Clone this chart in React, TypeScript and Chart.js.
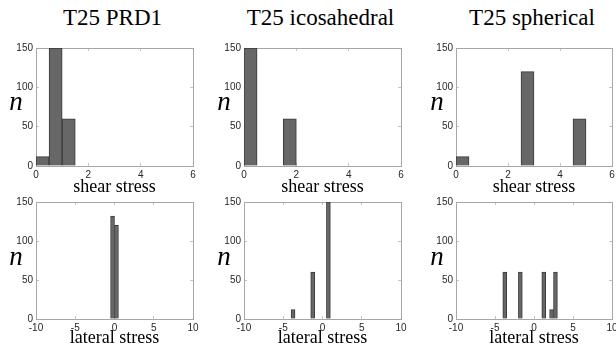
import React, { useEffect, useRef } from "react";
import { Chart, registerables } from "chart.js";

Chart.register(...registerables);

// ---------- data ----------
const BIN_WIDTH = 0.5;
const COUNT_MIN = 0;
const COUNT_MAX = 150;
const COUNT_STEP = 50;

const SHEAR_MIN = 0;
const SHEAR_MAX = 6;
const SHEAR_STEP = 2;
const LATERAL_MIN = -10;
const LATERAL_MAX = 10;
const LATERAL_STEP = 5;

const columnTitles = ["T25 PRD1", "T25 icosahedral", "T25 spherical"];
const shearLabel = "shear stress";
const lateralLabel = "lateral stress";
const countLabel = "n";

// bin start values and counts (bin width 0.5)
const prd1ShearStarts = [0, 0.5, 1.0];
const prd1ShearCounts = [12, 150, 60];
const icoShearStarts = [0, 1.5];
const icoShearCounts = [150, 60];
const sphShearStarts = [0, 2.5, 4.5];
const sphShearCounts = [12, 120, 60];

const prd1LateralStarts = [-0.5, 0];
const prd1LateralCounts = [132, 120];
const icoLateralStarts = [-4, -1.5, 0.5];
const icoLateralCounts = [12, 60, 150];
const sphLateralStarts = [-4, -2, 1, 2, 2.5];
const sphLateralCounts = [60, 60, 60, 12, 60];

// ---------- layout ----------
const COLS = [
  { left: 36, right: 193 },
  { left: 244, right: 401 },
  { left: 456, right: 612 },
];
const ROWS = [
  { top: 48, bottom: 166 },
  { top: 202, bottom: 319 },
];
const PAD_L = 34;
const PAD_T = 6;
const PAD_B = 18;

const TICK_FONT = { family: "'Liberation Sans', Arial, Helvetica, sans-serif", size: 10 };
const TICK_COLOR = "#262626";
const BOX_COLOR = "#a6a6a6";
const TICK_MARK_COLOR = "#c4c4c4";
const BAR_FILL = "#676767";
const BAR_EDGE = "#3a3a3a";

function buildHistogram(min: number, max: number, starts: number[], counts: number[]) {
  const n = Math.round((max - min) / BIN_WIDTH);
  const labels: string[] = [];
  const data: (number | null)[] = [];
  for (let i = 0; i < n; i++) {
    labels.push((min + i * BIN_WIDTH).toFixed(1));
    data.push(null);
  }
  starts.forEach((s, k) => {
    data[Math.round((s - min) / BIN_WIDTH)] = counts[k];
  });
  return { labels, data };
}

const fixSize = (size: number, horizontal: boolean) => (scale: any) => {
  if (horizontal) scale.height = size;
  else scale.width = size;
  scale.paddingLeft = 0;
  scale.paddingRight = 0;
  scale.paddingTop = 0;
  scale.paddingBottom = 0;
};

type PanelProps = {
  col: number;
  row: number;
  min: number;
  max: number;
  step: number;
  starts: number[];
  counts: number[];
};

function Panel({ col, row, min, max, step, starts, counts }: PanelProps) {
  const ref = useRef<HTMLCanvasElement | null>(null);
  const c = COLS[col];
  const r = ROWS[row];
  const padR = col === 2 ? 616 - c.right : 8;
  const width = c.right - c.left + PAD_L + padR;
  const height = r.bottom - r.top + PAD_T + PAD_B;

  useEffect(() => {
    if (!ref.current) return;
    const { labels, data } = buildHistogram(min, max, starts, counts);
    const grid = {
      offset: false,
      drawOnChartArea: false,
      drawTicks: true,
      tickLength: -3,
      tickColor: TICK_MARK_COLOR,
      color: TICK_MARK_COLOR,
    };
    const border = { display: true, color: BOX_COLOR, width: 1 };
    const chart = new Chart(ref.current, {
      type: "bar",
      data: {
        labels,
        datasets: [
          {
            data,
            backgroundColor: BAR_FILL,
            borderColor: BAR_EDGE,
            borderWidth: 1,
            barPercentage: 1,
            categoryPercentage: 1,
            xAxisID: "x",
            yAxisID: "y",
          },
        ],
      },
      options: {
        animation: false,
        responsive: false,
        devicePixelRatio: 1,
        layout: { padding: 0 },
        plugins: { legend: { display: false }, tooltip: { enabled: false }, title: { display: false } },
        scales: {
          x: { type: "category", display: false, offset: true },
          xb: {
            type: "linear",
            position: "bottom",
            offset: false,
            min,
            max,
            ticks: { stepSize: step, font: TICK_FONT, color: TICK_COLOR, padding: 6, maxRotation: 0, autoSkip: false },
            grid,
            border,
            afterFit: fixSize(PAD_B, true),
          },
          xt: {
            type: "linear",
            position: "top",
            offset: false,
            min,
            max,
            ticks: { stepSize: step, display: false },
            grid,
            border,
            afterFit: fixSize(PAD_T, true),
          },
          y: {
            type: "linear",
            position: "left",
            offset: false,
            min: COUNT_MIN,
            max: COUNT_MAX,
            ticks: { stepSize: COUNT_STEP, font: TICK_FONT, color: TICK_COLOR, padding: 6 },
            grid,
            border,
            afterFit: fixSize(PAD_L, false),
          },
          yr: {
            type: "linear",
            position: "right",
            offset: false,
            min: COUNT_MIN,
            max: COUNT_MAX,
            ticks: { stepSize: COUNT_STEP, display: false },
            grid,
            border,
            afterFit: fixSize(padR, false),
          },
        },
      } as any,
    });
    return () => chart.destroy();
  }, []);

  return (
    <canvas
      ref={ref}
      width={width}
      height={height}
      style={{ position: "absolute", left: c.left - PAD_L, top: r.top - PAD_T, width, height }}
    />
  );
}

const SERIF = "'Liberation Serif', 'Times New Roman', Times, serif";

function Text({ x, top, size, italic, children }: any) {
  return (
    <div
      style={{
        position: "absolute",
        left: x,
        top,
        transform: "translateX(-50%)",
        fontFamily: SERIF,
        fontSize: size,
        lineHeight: 1,
        fontStyle: italic ? "italic" : "normal",
        whiteSpace: "nowrap",
        color: "#000",
      }}
    >
      {children}
    </div>
  );
}

export default function App() {
  const shearStarts = [prd1ShearStarts, icoShearStarts, sphShearStarts];
  const shearCounts = [prd1ShearCounts, icoShearCounts, sphShearCounts];
  const latStarts = [prd1LateralStarts, icoLateralStarts, sphLateralStarts];
  const latCounts = [prd1LateralCounts, icoLateralCounts, sphLateralCounts];
  const nX = [16, 224, 437];
  return (
    <div style={{ position: "fixed", left: 0, top: 0, width: 616, height: 345, background: "#fff", overflow: "hidden" }}>
      {COLS.map((c, i) => (
        <React.Fragment key={i}>
          <Text x={(c.left + c.right) / 2 - 2} top={6} size={23}>
            {columnTitles[i]}
          </Text>
          <Panel col={i} row={0} min={SHEAR_MIN} max={SHEAR_MAX} step={SHEAR_STEP} starts={shearStarts[i]} counts={shearCounts[i]} />
          <Panel col={i} row={1} min={LATERAL_MIN} max={LATERAL_MAX} step={LATERAL_STEP} starts={latStarts[i]} counts={latCounts[i]} />
          <Text x={(c.left + c.right) / 2} top={177} size={18}>
            {shearLabel}
          </Text>
          <Text x={(c.left + c.right) / 2} top={328} size={18}>
            {lateralLabel}
          </Text>
          <Text x={nX[i]} top={88} size={27} italic>
            {countLabel}
          </Text>
          <Text x={nX[i]} top={243} size={27} italic>
            {countLabel}
          </Text>
        </React.Fragment>
      ))}
    </div>
  );
}
